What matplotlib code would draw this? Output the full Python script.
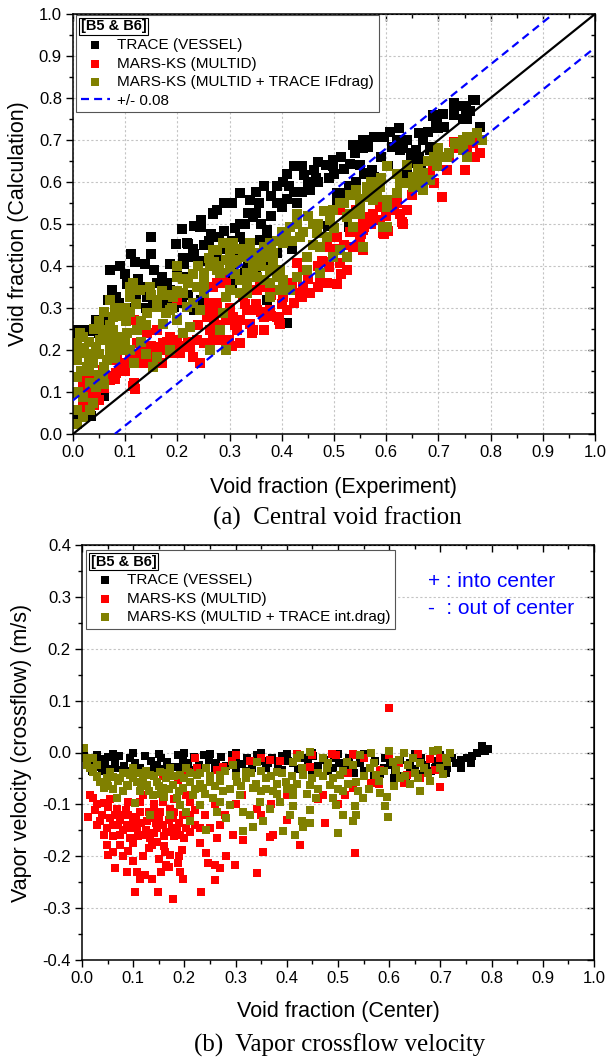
import matplotlib.pyplot as plt
import numpy as np
from matplotlib.lines import Line2D

plt.rcParams['font.family'] = ['Liberation Sans', 'DejaVu Sans']
plt.rcParams['axes.unicode_minus'] = False

# ---- (a) central void fraction: (experiment, calculation) ----
traceA = [
    (.771, .795), (.752, .771), (.730, .780), (.708, .763), (.689, .760), (.696, .740), (.700, .728),
    (.681, .720), (.780, .730), (.748, .750), (.625, .728), (.607, .720), (.596, .708), (.577, .708),
    (.562, .700), (.555, .680), (.566, .684), (.540, .668), (.536, .688), (.514, .660), (.499, .652),
    (.485, .640), (.469, .648), (.462, .628), (.465, .609), (.439, .637), (.443, .617), (.424, .637),
    (.410, .620), (.402, .600), (.413, .590), (.424, .577), (.439, .577), (.454, .580), (.391, .590),
    (.380, .566), (.365, .590), (.350, .577), (.357, .550), (.339, .558), (.320, .574), (.305, .550),
    (.290, .550), (.275, .534), (.268, .526), (.246, .510), (.231, .495), (.208, .487), (.335, .526),
    (.350, .526), (.633, .680), (.611, .684), (.648, .668), (.663, .660), (.648, .645), (.666, .637),
    (.640, .620), (.603, .637), (.558, .620), (.573, .628), (.577, .613), (.529, .590), (.543, .600),
    (.514, .574), (.506, .558), (.685, .684), (.149, .470), (.112, .429), (.149, .429), (.119, .410),
    (.138, .405), (.156, .390), (.186, .405), (.197, .453), (.220, .453), (.231, .429), (.212, .405),
    (.246, .413), (.268, .429), (.246, .492), (.265, .476), (.290, .484), (.305, .460), (.328, .453),
    (.343, .429), (.313, .421), (.305, .398), (.335, .405), (.350, .382), (.380, .413), (.387, .390),
    (.372, .476), (.380, .453), (.071, .390), (.074, .343), (.082, .327), (.104, .358), (.089, .311),
    (.067, .319), (.082, .295), (.097, .280), (.045, .272), (.052, .256), (.007, .248), (.019, .248),
    (.030, .248), (.045, .256), (.060, .272), (.141, .327), (.153, .311), (.186, .343), (.171, .327),
    (.208, .311), (.246, .319), (.261, .295), (.305, .358), (.343, .343), (.372, .319), (.410, .264),
    (.007, .035), (.034, .043), (.060, .090), (.171, .374), (.194, .303), (.231, .295), (.275, .421),
    (.216, .374), (.488, .496), (.529, .492), (.269, .525), (.243, .494), (.218, .454), (.230, .422),
    (.320, .501), (.345, .517), (.371, .486), (.358, .462), (.390, .549), (.665, .637), (.684, .676),
    (.639, .700), (.662, .716), (.690, .756), (.697, .740), (.729, .787), (.748, .780), (.767, .795),
    (.754, .751), (.658, .676), (.626, .676), (.556, .700), (.531, .644), (.499, .637), (.505, .573),
    (.531, .589), (.563, .621), (.582, .605), (.000, .240), (.013, .235),
    (.090, .400), (.100, .380), (.125, .370), (.130, .350), (.160, .360), (.180, .360), (.200, .390),
    (.210, .420), (.230, .440), (.250, .450), (.260, .460), (.280, .470), (.290, .440), (.310, .490),
    (.320, .470), (.330, .500), (.360, .500), (.380, .520), (.400, .540), (.410, .560), (.430, .550),
    (.450, .600), (.470, .600), (.490, .610), (.500, .620), (.520, .630), (.550, .640), (.590, .660),
    (.620, .700), (.640, .700), (.670, .700), (.710, .730), (.730, .760), (.760, .770), (.050, .240),
    (.035, .245), (.060, .250), (.110, .300), (.120, .320), (.140, .300), (.170, .310), (.190, .320),
    (.220, .330), (.250, .340), (.280, .360), (.300, .380), (.330, .390), (.360, .400), (.390, .430),
    (.400, .460), (.420, .440),
]

marsA = [
    (.020, .113), (.033, .081), (.045, .089), (.026, .136), (.039, .136), (.058, .152), (.071, .129),
    (.090, .152), (.084, .176), (.109, .184), (.116, .121), (.128, .168), (.135, .200), (.122, .216),
    (.148, .192), (.160, .208), (.173, .216), (.186, .232), (.199, .224), (.205, .192), (.224, .208),
    (.230, .184), (.243, .168), (.237, .224), (.250, .216), (.262, .248), (.256, .279), (.262, .303),
    (.275, .311), (.269, .224), (.288, .224), (.294, .271), (.307, .279), (.320, .271), (.333, .295),
    (.314, .248), (.339, .263), (.352, .295), (.365, .279), (.377, .295), (.390, .279), (.397, .263),
    (.345, .248), (.288, .375), (.275, .359), (.199, .319), (.116, .271), (.377, .343), (.403, .327),
    (.358, .351), (.326, .327), (.141, .240), (.160, .248), (.040, .070), (.050, .080), (.030, .100),
    (.020, .065), (.115, .114), (.119, .106), (.511, .533), (.563, .517), (.588, .541), (.601, .557),
    (.614, .533), (.594, .486), (.556, .486), (.550, .454), (.537, .446), (.556, .438), (.505, .470),
    (.486, .446), (.511, .406), (.524, .390), (.486, .359), (.473, .367), (.441, .351), (.435, .335),
    (.448, .335), (.429, .406), (.435, .470), (.403, .367), (.352, .343), (.282, .375), (.294, .359),
    (.269, .351), (.767, .692), (.780, .668), (.754, .676), (.751, .629), (.761, .700), (.729, .696),
    (.716, .629), (.706, .565), (.691, .597), (.678, .613), (.665, .589), (.684, .621), (.639, .533),
    (.626, .525), (.614, .533), (.630, .505), (.601, .549), (.588, .510), (.575, .525), (.556, .510),
    (.543, .533), (.594, .478), (.477, .413), (.491, .398), (.514, .382), (.506, .358), (.469, .350),
    (.454, .335), (.439, .327), (.424, .311), (.410, .295), (.395, .272), (.380, .280), (.365, .248),
    (.343, .240), (.320, .217), (.305, .209), (.298, .224), (.275, .287), (.261, .311), (.208, .209),
    (.186, .193), (.171, .169), (.156, .177), (.112, .177), (.082, .146), (.067, .138), (.052, .122),
    (.558, .492), (.551, .476), (.603, .484), (.633, .500), (.596, .476),
    (.060, .110), (.080, .130), (.100, .150), (.100, .170), (.120, .190), (.140, .170), (.150, .210),
    (.170, .200), (.180, .220), (.190, .210), (.210, .240), (.220, .220), (.240, .260), (.270, .270),
    (.280, .260), (.300, .300), (.310, .260), (.330, .310), (.350, .310), (.360, .290), (.380, .330),
    (.400, .310), (.420, .360), (.440, .390), (.450, .370), (.470, .400), (.490, .410), (.500, .440),
    (.520, .450), (.530, .480), (.550, .470), (.570, .500), (.600, .520), (.620, .550), (.650, .570),
    (.670, .600), (.690, .640), (.720, .660), (.740, .680), (.770, .660),
]

multiA = [
    (.007, .025), (.007, .057), (.007, .097), (.007, .136), (.007, .176), (.007, .216), (.013, .240),
    (.020, .192), (.026, .160), (.020, .089), (.033, .057), (.039, .073), (.033, .121), (.045, .113),
    (.039, .168), (.045, .208), (.052, .224), (.058, .248), (.065, .224), (.071, .200), (.065, .176),
    (.058, .136), (.077, .248), (.084, .224), (.090, .232), (.077, .279), (.071, .319), (.103, .240),
    (.096, .200), (.116, .168), (.122, .248), (.109, .327), (.109, .351), (.115, .359), (.128, .343),
    (.148, .351), (.141, .287), (.160, .303), (.179, .287), (.173, .263), (.186, .295), (.199, .271),
    (.192, .327), (.199, .375), (.199, .399), (.211, .335), (.218, .303), (.230, .311), (.224, .255),
    (.211, .240), (.186, .200), (.154, .160), (.160, .184), (.243, .295), (.250, .335), (.237, .351),
    (.262, .399), (.250, .383), (.275, .438), (.294, .454), (.294, .414), (.281, .383), (.300, .391),
    (.314, .406), (.320, .367), (.333, .383), (.326, .422), (.345, .391), (.358, .406), (.365, .367),
    (.377, .391), (.384, .430), (.390, .375), (.403, .367), (.377, .327), (.397, .343), (.294, .327),
    (.288, .287), (.281, .248), (.294, .200), (.262, .200), (.333, .335), (.365, .446), (.339, .454),
    (.288, .454), (.377, .454), (.307, .454), (.269, .438), (.275, .391), (.307, .414), (.333, .430),
    (.345, .406), (.365, .422), (.384, .406), (.403, .454), (.416, .494), (.429, .525), (.409, .470),
    (.435, .470), (.460, .501), (.467, .478), (.473, .446), (.486, .470), (.448, .422), (.492, .510),
    (.499, .533), (.511, .549), (.524, .517), (.537, .494), (.550, .525), (.543, .581), (.563, .589),
    (.582, .597), (.601, .637), (.582, .565), (.601, .541), (.601, .494), (.556, .446), (.511, .438),
    (.524, .422), (.499, .422), (.473, .383), (.448, .391), (.429, .375), (.416, .343), (.397, .391),
    (.377, .359), (.352, .375), (.333, .359), (.320, .335), (.301, .343), (.773, .716), (.754, .708),
    (.783, .700), (.748, .700), (.732, .692), (.754, .660), (.748, .676), (.716, .660), (.703, .660),
    (.691, .660), (.697, .637), (.671, .621), (.665, .605), (.652, .589), (.671, .581), (.639, .597),
    (.626, .597), (.620, .573), (.601, .637), (.588, .589), (.575, .581), (.563, .589), (.563, .565),
    (.550, .541), (.601, .557), (.575, .557), (.531, .525), (.594, .494), (.652, .613), (.684, .605),
    (.022, .205), (.030, .180), (.015, .150), (.050, .190), (.060, .160), (.088, .200), (.102, .270),
    (.010, .200), (.020, .230), (.030, .220), (.040, .250), (.050, .270), (.060, .290), (.070, .260),
    (.080, .300), (.090, .280), (.100, .300), (.110, .290), (.120, .310), (.130, .270), (.140, .260),
    (.150, .330), (.160, .320), (.170, .340), (.180, .330), (.190, .300), (.200, .340), (.210, .370),
    (.220, .360), (.230, .380), (.240, .400), (.250, .360), (.260, .420), (.270, .410), (.280, .400),
    (.300, .430), (.310, .380), (.320, .440), (.340, .420), (.350, .430), (.360, .400), (.380, .440),
    (.390, .460), (.400, .480), (.420, .460), (.430, .500), (.440, .480), (.450, .520), (.460, .450),
    (.470, .500), (.480, .530), (.500, .490), (.520, .550), (.530, .570), (.550, .560), (.570, .600),
    (.590, .610), (.620, .620), (.640, .640), (.660, .630), (.680, .650), (.700, .680), (.720, .670),
    (.740, .690), (.760, .700), (.030, .150), (.040, .190), (.050, .140), (.060, .120), (.080, .180),
    (.100, .220), (.110, .200), (.130, .220), (.140, .190), (.020, .040), (.010, .100),
]

# ---- (b) vapor crossflow velocity: (center void fraction, velocity m/s) ----
traceB = [
    (.003, .005), (.010, -.015), (.018, -.022), (.027, -.028), (.035, -.012), (.045, -.021),
    (.055, -.031), (.064, -.016), (.072, -.006), (.083, -.026), (.093, -.011), (.104, -.020),
    (.113, -.029), (.124, -.006), (.135, -.016), (.146, -.024), (.155, -.010), (.166, -.019),
    (.177, -.027), (.188, -.004), (.197, -.015), (.207, -.021), (.218, -.009), (.229, -.024),
    (.238, -.004), (.249, -.014), (.261, -.021), (.272, -.009), (.281, -.026), (.292, -.005),
    (.301, -.016), (.312, -.022), (.323, -.010), (.333, -.030), (.342, -.004), (.352, -.016),
    (.363, -.021), (.372, -.011), (.383, -.026), (.391, -.006), (.402, -.016), (.412, -.021),
    (.421, -.031), (.433, -.011), (.442, -.021), (.451, -.006), (.461, -.026), (.472, -.015),
    (.481, -.035), (.492, -.010), (.502, -.021), (.513, -.031), (.521, -.010), (.532, -.040),
    (.542, -.020), (.551, -.006), (.562, -.030), (.572, -.016), (.582, -.041), (.591, -.011),
    (.601, -.025), (.612, -.036), (.621, -.015), (.632, -.050), (.641, -.021), (.651, -.031),
    (.662, -.011), (.671, -.025), (.682, -.036), (.691, -.016), (.702, -.021), (.712, -.030),
    (.722, -.011), (.731, -.020), (.741, -.015), (.752, -.011), (.762, -.006), (.772, .000),
    (.781, .012), (.792, .007), (.787, .002), (.020, -.035), (.050, -.008), (.080, -.033),
    (.120, -.036), (.160, -.032), (.210, -.033), (.260, -.030), (.620, -.045), (.660, -.042),
    (.015, -.030), (.040, -.035), (.065, -.030), (.090, -.035), (.110, -.033), (.140, -.030),
    (.170, -.034), (.190, -.028), (.230, -.032), (.270, -.028), (.300, -.030), (.320, -.035),
    (.360, -.030), (.390, -.033), (.430, -.030), (.450, -.035), (.490, -.030), (.520, -.025),
    (.550, -.035), (.570, -.045), (.590, -.030), (.610, -.050), (.640, -.035), (.660, -.045),
    (.690, -.030), (.710, -.040), (.740, -.030), (.760, -.020), (.030, -.005), (.060, -.002),
    (.100, .000), (.150, -.002), (.200, .000), (.250, -.003), (.300, -.001), (.350, .000),
    (.400, -.002), (.450, -.001), (.500, -.003), (.550, -.002), (.600, -.004), (.650, -.003),
    (.700, -.005),
]

marsB = [
    (.016, -.082), (.022, -.088), (.012, -.124), (.025, -.111), (.042, -.098), (.035, -.133),
    (.048, -.146), (.042, -.159), (.055, -.127), (.061, -.140), (.068, -.108), (.074, -.159),
    (.081, -.120), (.087, -.140), (.094, -.165), (.100, -.133), (.107, -.146), (.113, -.114),
    (.120, -.159), (.126, -.133), (.133, -.165), (.139, -.127), (.146, -.146), (.152, -.114),
    (.159, -.140), (.165, -.153), (.172, -.108), (.178, -.127), (.185, -.146), (.191, -.159),
    (.198, -.120), (.204, -.146), (.211, -.095), (.159, -.095), (.113, -.095), (.048, -.178),
    (.051, -.197), (.061, -.191), (.064, -.223), (.074, -.178), (.087, -.230), (.100, -.210),
    (.107, -.230), (.113, -.243), (.123, -.236), (.136, -.243), (.103, -.269), (.149, -.269),
    (.155, -.230), (.162, -.191), (.165, -.217), (.172, -.197), (.178, -.282), (.188, -.213),
    (.191, -.230), (.198, -.243), (.195, -.188), (.136, -.178), (.146, -.172), (.230, -.175),
    (.233, -.269), (.243, -.194), (.247, -.213), (.260, -.217), (.260, -.246), (.269, -.223),
    (.282, -.200), (.263, -.165), (.295, -.159), (.299, -.217), (.315, -.168), (.341, -.233),
    (.354, -.191), (.367, -.162), (.374, -.159), (.269, -.140), (.250, -.146), (.230, -.146),
    (.211, -.153), (.204, -.082), (.120, -.082), (.312, -.082), (.341, -.108), (.400, -.082),
    (.208, -.037), (.224, -.030), (.263, -.033), (.292, -.017), (.328, -.017), (.367, -.015),
    (.387, -.017), (.188, -.053), (.159, -.046), (.276, -.027), (.426, -.178), (.475, -.135),
    (.533, -.193), (.699, -.066), (.564, -.058), (.530, -.069), (.514, -.082), (.628, -.059),
    (.488, -.002), (.497, -.005), (.536, -.005), (.582, -.034), (.657, -.002), (.680, -.012),
    (.689, -.034), (.634, -.043), (.530, -.002), (.445, -.028), (.471, -.082), (.419, -.002),
    (.600, .085), (.090, -.120), (.140, -.110), (.070, -.140), (.180, -.160), (.240, -.120),
    (.030, -.100), (.040, -.120), (.050, -.105), (.060, -.160), (.065, -.120), (.075, -.130),
    (.080, -.150), (.085, -.110), (.095, -.145), (.105, -.125), (.110, -.160), (.115, -.135),
    (.125, -.150), (.130, -.115), (.140, -.155), (.145, -.135), (.150, -.125), (.160, -.160),
    (.170, -.130), (.175, -.145), (.180, -.115), (.190, -.135), (.200, -.165), (.210, -.120),
    (.220, -.140), (.100, -.175), (.130, -.185), (.160, -.180), (.090, -.190), (.120, -.200),
    (.150, -.205), (.170, -.220), (.190, -.200), (.080, -.200), (.055, -.090), (.030, -.140),
    (.090, -.095), (.140, -.100), (.180, -.090), (.220, -.110), (.260, -.100), (.280, -.120),
    (.300, -.100), (.350, -.120), (.370, -.100), (.400, -.130), (.460, -.090), (.500, -.100),
    (.220, -.010), (.300, -.005), (.350, -.010), (.450, -.005), (.550, -.010), (.600, -.005),
    (.620, -.020), (.700, -.010), (.660, -.050), (.580, -.060), (.520, -.040),
]

multiB = [
    (.003, .008), (.006, -.011), (.009, -.024), (.022, -.037), (.029, -.047), (.035, -.056),
    (.042, -.069), (.048, -.050), (.055, -.037), (.061, -.047), (.074, -.050), (.081, -.075),
    (.087, -.062), (.094, -.043), (.100, -.030), (.107, -.056), (.113, -.075), (.126, -.062),
    (.133, -.043), (.139, -.082), (.146, -.056), (.152, -.037), (.159, -.069), (.165, -.050),
    (.172, -.030), (.178, -.062), (.185, -.088), (.191, -.043), (.198, -.069), (.204, -.030),
    (.211, -.056), (.217, -.082), (.224, -.043), (.230, -.101), (.237, -.069), (.243, -.030),
    (.250, -.056), (.256, -.088), (.263, -.114), (.269, -.043), (.276, -.075), (.282, -.127),
    (.289, -.101), (.295, -.024), (.302, -.056), (.308, -.082), (.315, -.114), (.321, -.037),
    (.328, -.120), (.334, -.069), (.341, -.018), (.347, -.095), (.354, -.133), (.360, -.050),
    (.367, -.108), (.373, -.075), (.380, -.037), (.386, -.095), (.393, -.152), (.399, -.056),
    (.406, -.120), (.412, -.082), (.419, -.011), (.133, -.120), (.172, -.120), (.191, -.101),
    (.211, -.133), (.243, -.150), (.315, -.152), (.334, -.143), (.068, -.088), (.104, -.098),
    (.204, -.114), (.022, -.011), (.413, -.018), (.413, -.069), (.413, -.104), (.416, -.159),
    (.429, -.133), (.445, -.136), (.432, -.143), (.426, -.005), (.445, .001), (.432, -.043),
    (.445, -.062), (.458, -.088), (.471, -.011), (.478, -.030), (.484, -.062), (.491, -.088),
    (.497, -.101), (.504, -.043), (.510, -.120), (.510, -.075), (.517, -.018), (.530, -.133),
    (.536, -.120), (.533, -.104), (.536, -.056), (.543, -.005), (.549, -.088), (.562, -.030),
    (.565, .000), (.575, -.043), (.582, -.079), (.591, -.104), (.598, -.124), (.595, -.085),
    (.600, .002), (.608, -.018), (.614, -.033), (.621, -.049), (.628, -.001), (.637, -.024),
    (.647, -.011), (.657, -.049), (.660, -.075), (.667, -.030), (.676, -.040), (.686, .002),
    (.696, .005), (.706, -.042), (.712, -.018), (.719, -.001), (.445, -.110), (.500, -.155),
    (.030, -.025), (.050, -.065), (.085, -.040), (.120, -.050), (.160, -.085), (.230, -.060),
    (.270, -.095), (.350, -.075), (.380, -.060), (.460, -.040), (.560, -.070), (.650, -.040),
    (.015, -.030), (.030, -.045), (.045, -.060), (.060, -.070), (.070, -.055), (.080, -.040),
    (.090, -.065), (.100, -.050), (.110, -.040), (.115, -.065), (.125, -.035), (.130, -.075),
    (.140, -.045), (.150, -.065), (.155, -.080), (.165, -.040), (.170, -.070), (.180, -.045),
    (.190, -.075), (.200, -.050), (.210, -.040), (.220, -.070), (.230, -.040), (.240, -.080),
    (.250, -.045), (.260, -.065), (.270, -.055), (.280, -.035), (.290, -.070), (.300, -.045),
    (.310, -.065), (.320, -.050), (.330, -.040), (.340, -.060), (.350, -.035), (.360, -.070),
    (.370, -.045), (.380, -.080), (.390, -.040), (.400, -.070), (.410, -.045), (.420, -.060),
    (.430, -.030), (.440, -.080), (.450, -.050), (.460, -.070), (.470, -.045), (.480, -.020),
    (.490, -.050), (.500, -.070), (.510, -.035), (.520, -.060), (.530, -.025), (.540, -.075),
    (.550, -.045), (.570, -.020), (.580, -.055), (.590, -.035), (.610, -.065), (.620, -.015),
    (.630, -.045), (.640, -.060), (.660, -.020), (.680, -.055), (.700, -.030), (.710, -.010),
]

bandHalfWidth = 0.08
xTicks = np.round(np.arange(0, 1.01, 0.1), 1)

colorTrace = 'black'
colorMars = '#ff0000'
colorMulti = '#808000'


def styleAxes(ax, yMin, yMax, gridX):
    ax.set_xlim(0, 1)
    ax.set_ylim(yMin, yMax)
    yTicks = np.round(np.arange(yMin, yMax + 0.001, 0.1), 1)
    ax.set_xticks(xTicks)
    ax.set_yticks(yTicks)
    ax.set_xticks(np.arange(0.05, 1.0, 0.1), minor=True)
    ax.set_yticks(np.arange(yMin + 0.05, yMax, 0.1), minor=True)
    ax.tick_params(which='major', direction='out', length=5, width=1, labelsize=12, pad=3)
    ax.tick_params(which='minor', direction='out', length=3, width=1)
    for spine in ax.spines.values():
        spine.set_linewidth(1.1)
    grid = dict(color='#c4c4c4', linestyle=(0, (2, 2)), linewidth=0.8)
    if gridX:
        ax.xaxis.grid(True, **grid)
    ax.yaxis.grid(True, **grid)
    ax.set_axisbelow(True)
    # mirrored ticks pointing inwards on top and right
    top = ax.secondary_xaxis('top')
    top.set_xticks(xTicks)
    top.set_xticks(np.arange(0.05, 1.0, 0.1), minor=True)
    top.tick_params(which='both', direction='in', labeltop=False, width=1)
    top.tick_params(which='major', length=5)
    top.tick_params(which='minor', length=3)
    right = ax.secondary_yaxis('right')
    right.set_yticks(yTicks)
    right.set_yticks(np.arange(yMin + 0.05, yMax, 0.1), minor=True)
    right.tick_params(which='both', direction='in', labelright=False, width=1)
    right.tick_params(which='major', length=5)
    right.tick_params(which='minor', length=3)


def drawSeries(ax, points, color, label, size):
    pts = np.array(points)
    return ax.scatter(pts[:, 0], pts[:, 1], s=size, marker='s', color=color,
                      linewidths=0, label=label, zorder=2)


def addLegend(ax, handles, anchor):
    leg = ax.legend(handles=handles, loc='upper left', bbox_to_anchor=anchor,
                    title='[B5 & B6]', alignment='left',
                    title_fontproperties={'weight': 'bold', 'size': 10.5},
                    fontsize=11, frameon=True, fancybox=False, framealpha=1,
                    edgecolor='#555555', borderaxespad=0, borderpad=0.3,
                    labelspacing=0.3, handlelength=1.9, handletextpad=0.5,
                    scatterpoints=1, markerscale=0.8)
    leg.get_frame().set_linewidth(0.8)
    leg.get_title().set_bbox(dict(boxstyle='square,pad=0.12', fc='none', ec='black', lw=0.8))
    leg.set_zorder(5)
    return leg


fig = plt.figure(figsize=(6.08, 10.62), dpi=100)
ax1 = fig.add_axes([73 / 608, 1 - 434 / 1062, 522 / 608, 420 / 1062])
ax2 = fig.add_axes([82 / 608, 1 - 960 / 1062, 512 / 608, 415 / 1062])

# ---------- (a) ----------
styleAxes(ax1, 0.0, 1.0, True)
h1 = drawSeries(ax1, traceA, colorTrace, 'TRACE (VESSEL)', 46)
h2 = drawSeries(ax1, marsA, colorMars, 'MARS-KS (MULTID)', 46)
h3 = drawSeries(ax1, multiA, colorMulti, 'MARS-KS (MULTID + TRACE IFdrag)', 46)
ax1.plot([0, 1], [0, 1], color='black', lw=1.6, zorder=3)
dashStyle = (0, (3.6, 2.3))
ax1.plot([0, 1 - bandHalfWidth], [bandHalfWidth, 1], color='#0000ff', lw=1.6, ls=dashStyle, zorder=3)
ax1.plot([bandHalfWidth, 1], [0, 1 - bandHalfWidth], color='#0000ff', lw=1.6, ls=dashStyle, zorder=3)
bandHandle = Line2D([], [], color='#0000ff', lw=1.6, ls=dashStyle, label='+/- 0.08')
addLegend(ax1, [h1, h2, h3, bandHandle], (0.006, 0.998))

ax1.set_xlabel('Void fraction (Experiment)', fontsize=15.5, va='center')
ax1.xaxis.set_label_coords(0.5, (434 - 488) / 420)
ax1.set_ylabel('Void fraction (Calculation)', fontsize=15.5, va='center')
ax1.yaxis.set_label_coords((19 - 73) / 522, 0.5)

# ---------- (b) ----------
styleAxes(ax2, -0.4, 0.4, False)
g1 = drawSeries(ax2, traceB, colorTrace, 'TRACE (VESSEL)', 40)
g2 = drawSeries(ax2, marsB, colorMars, 'MARS-KS (MULTID)', 40)
g3 = drawSeries(ax2, multiB, colorMulti, 'MARS-KS (MULTID + TRACE int.drag)', 40)
addLegend(ax2, [g1, g2, g3], (0.008, 0.988))
ax2.text(0.676, 0.911, '+ : into center', transform=ax2.transAxes, color='#0000ff',
         fontsize=15, va='center', ha='left')
ax2.text(0.676, 0.848, '-  : out of center', transform=ax2.transAxes, color='#0000ff',
         fontsize=15, va='center', ha='left')

ax2.set_xlabel('Void fraction (Center)', fontsize=15.5, va='center')
ax2.xaxis.set_label_coords(0.5, (960 - 1012) / 415)
ax2.set_ylabel('Vapor velocity (crossflow) (m/s)', fontsize=15.5, va='center')
ax2.yaxis.set_label_coords((22 - 82) / 512, 0.5)

captionFont = dict(family=['Liberation Serif', 'DejaVu Serif'], fontsize=18, ha='center', va='center')
fig.text(337 / 608, 1 - 518 / 1062, '(a)  Central void fraction', **captionFont)
fig.text(340 / 608, 1 - 1045 / 1062, '(b)  Vapor crossflow velocity', **captionFont)

fig.savefig('out.png', dpi=100)
